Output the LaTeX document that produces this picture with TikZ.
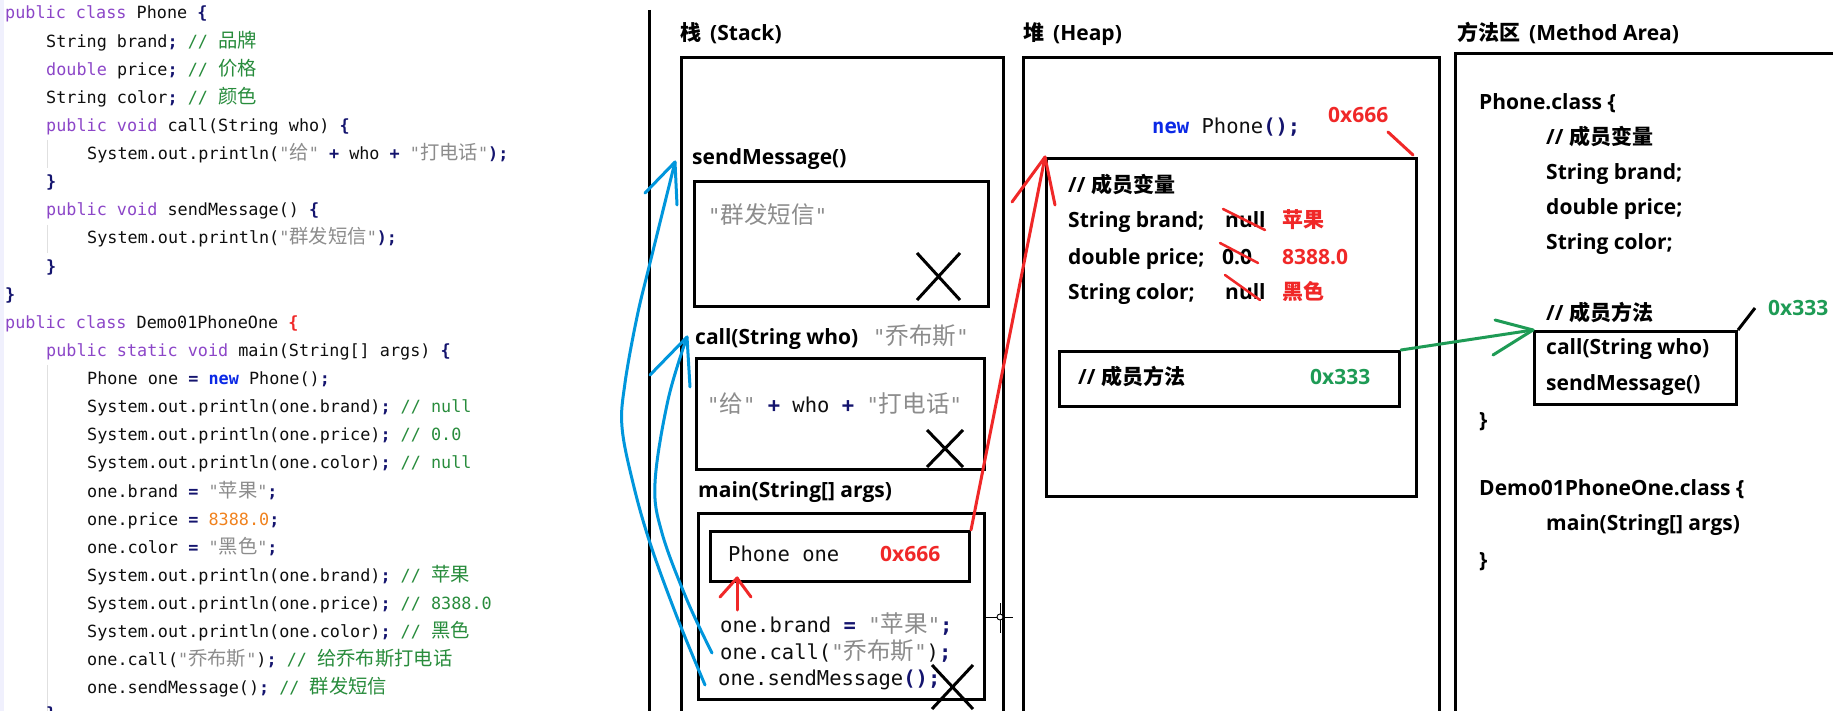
\documentclass[tikz,border=0pt]{standalone}
\usepackage{fontspec}
\newfontfamily\monof{DejaVu Sans Mono}
\newfontfamily\zhcode{Noto Sans CJK SC}[Scale=1.15]
\newfontfamily\dlat{Open Sans}
\newfontfamily\dzh{Noto Sans CJK SC}
\definecolor{kwc}{RGB}{140,70,200}
\definecolor{cmc}{RGB}{40,140,60}
\definecolor{sgc}{RGB}{140,140,140}
\definecolor{pnc}{RGB}{20,20,110}
\definecolor{nuc}{RGB}{240,130,30}
\definecolor{nwc}{RGB}{10,40,230}
\definecolor{codeblack}{RGB}{15,15,15}
\definecolor{redc}{RGB}{240,40,40}
\definecolor{grnc}{RGB}{30,155,85}
\definecolor{bluec}{RGB}{0,150,220}
\newcommand\Kw[1]{\textcolor{kwc}{#1}}
\newcommand\Cm[1]{\textcolor{cmc}{#1}}
\newcommand\Sg[1]{\textcolor{sgc}{#1}}
\newcommand\Pn[1]{\textcolor{pnc}{\bfseries #1}}
\newcommand\Nu[1]{\textcolor{nuc}{#1}}
\newcommand\Nw[1]{\textcolor{nwc}{\bfseries #1}}
\newcommand\Zc[1]{{\zhcode #1}}
\newcommand\Zd[1]{{\dzh\bfseries #1}}
\begin{document}
\begin{tikzpicture}[x=1pt,y=-1pt,
  code/.style={anchor=base west, inner sep=0, text=codeblack, font=\monof\fontsize{16.8}{20}\selectfont},
  scode/.style={anchor=base west, inner sep=0, text=codeblack, font=\monof\fontsize{20.5}{24}\selectfont},
  dia/.style={anchor=base west, inner sep=0, text=black, font=\dlat\bfseries\fontsize{21}{25}\selectfont},
  box/.style={draw, line width=3pt, inner sep=0, anchor=north west},
  xmark/.style={line width=3pt},
  bluearrow/.style={draw=bluec, line width=3pt, line cap=round, line join=round},
  redarrow/.style={draw=redc, line width=3pt, line cap=round, line join=round},
  grnarrow/.style={draw=grnc, line width=3pt, line cap=round, line join=round},
  guide/.style={draw=black!12, line width=0.8pt}
]
\useasboundingbox (0,0) rectangle (1833,711);
\fill[white] (0,0) rectangle (1833,711);
\fill[black!10!blue!6] (0,0) rectangle (4,711);
% indentation guides
\draw[guide] (47,140) -- (47,168);
\draw[guide] (47,225) -- (47,253);
\draw[guide] (47,365) -- (47,711);

% ---------- source code ----------
\node[code] (l1)  at (5,19.0)   {\Kw{public class} Phone \Pn{\{}};
\node[code] (l2)  at (46,47.1)  {String brand\Pn{;} \Cm{// \Zc{品牌}}};
\node[code] (l3)  at (46,75.2)  {\Kw{double} price\Pn{;} \Cm{// \Zc{价格}}};
\node[code] (l4)  at (46,103.4) {String color\Pn{;} \Cm{// \Zc{颜色}}};
\node[code] (l5)  at (46,131.5) {\Kw{public void} call(String who) \Pn{\{}};
\node[code] (l6)  at (87,159.6) {System.out.println(\Sg{"\Zc{给}"} \Pn{+} who \Pn{+} \Sg{"\Zc{打电话}"}\Pn{);}};
\node[code] (l7)  at (46,187.7) {\Pn{\}}};
\node[code] (l8)  at (46,215.8) {\Kw{public void} sendMessage() \Pn{\{}};
\node[code] (l9)  at (87,244.0) {System.out.println(\Sg{"\Zc{群发短信}"}\Pn{);}};
\node[code] (l10) at (46,272.1) {\Pn{\}}};
\node[code] (l11) at (5,300.2)  {\Pn{\}}};
\node[code] (l12) at (5,328.3)  {\Kw{public class} Demo01PhoneOne \textcolor{redc}{\bfseries\{}};
\node[code] (l13) at (46,356.4) {\Kw{public static void} main(String[] args) \Pn{\{}};
\node[code] (l14) at (87,384.6) {Phone one \Pn{=} \Nw{new} Phone()\Pn{;}};
\node[code] (l15) at (87,412.7) {System.out.println(one.brand)\Pn{;} \Cm{// null}};
\node[code] (l16) at (87,440.8) {System.out.println(one.price)\Pn{;} \Cm{// 0.0}};
\node[code] (l17) at (87,468.9) {System.out.println(one.color)\Pn{;} \Cm{// null}};
\node[code] (l18) at (87,497.0) {one.brand \Pn{=} \Sg{"\Zc{苹果}"}\Pn{;}};
\node[code] (l19) at (87,525.2) {one.price \Pn{=} \Nu{8388.0}\Pn{;}};
\node[code] (l20) at (87,553.3) {one.color \Pn{=} \Sg{"\Zc{黑色}"}\Pn{;}};
\node[code] (l21) at (87,581.4) {System.out.println(one.brand)\Pn{;} \Cm{// \Zc{苹果}}};
\node[code] (l22) at (87,609.5) {System.out.println(one.price)\Pn{;} \Cm{// 8388.0}};
\node[code] (l23) at (87,637.6) {System.out.println(one.color)\Pn{;} \Cm{// \Zc{黑色}}};
\node[code] (l24) at (87,665.8) {one.call(\Sg{"\Zc{乔布斯}"})\Pn{;} \Cm{// \Zc{给乔布斯打电话}}};
\node[code] (l25) at (87,693.9) {one.sendMessage()\Pn{;} \Cm{// \Zc{群发短信}}};
\node[code] (l26) at (46,719.0) {\Pn{\}}};

% divider
\draw[line width=3pt] (649,10) -- (649,720);

% ---------- headings ----------
\node[dia] (hstack) at (680,40.5)  {\Zd{栈}\hspace{9pt}(Stack)};
\node[dia] (hheap)  at (1023,40.5) {\Zd{堆}\hspace{9pt}(Heap)};
\node[dia] (hma)    at (1457,40.5) {\Zd{方法区}\hspace{9pt}(Method Area)};

% ---------- stack ----------
\node[box, minimum width=322pt, minimum height=760pt] (stackbox) at (680,56) {};
\node[dia] (smlab) at (692,164.5) {sendMessage()};
\node[box, minimum width=294pt, minimum height=125pt] (smbox) at (693,180) {};
\node[scode, text=sgc] (smtxt) at (708,224) {"\Zc{群发短信}"};
\draw[xmark] (917,253) -- (960,300) (917,300) -- (960,253);

\node[dia] (calllab) at (695,344.5) {call(String who)};
\node[scode, text=sgc] (callarg) at (873,344) {"\Zc{乔布斯}"};
\node[box, minimum width=288pt, minimum height=111pt] (callbox) at (695,357) {};
\node[scode] (calltxt) at (707,412) {\Sg{"\Zc{给}"} \Pn{+} who \Pn{+} \Sg{"\Zc{打电话}"}};
\draw[xmark] (927,430) -- (963,467) (927,467) -- (963,430);

\node[dia] (mainlab) at (698,497.5) {main(String[] args)};
\node[box, minimum width=286pt, minimum height=186pt] (mainbox) at (697,512) {};
\node[box, minimum width=259pt, minimum height=50pt] (phonebox) at (709,530) {};
\node[scode] (phonetxt) at (728,561) {Phone one};
\node[dia, text=redc] (addr1) at (880,561.5) {0x666};
\node[scode] (m1) at (720,632) {one.brand \Pn{=} \Sg{"\Zc{苹果}"}\Pn{;}};
\node[scode] (m2) at (720,659) {one.call(\Sg{"\Zc{乔布斯}"})\Pn{;}};
\node[scode] (m3) at (718,685) {one.sendMessage\Pn{();}};
\draw[xmark] (932,665) -- (973,709) (973,665) -- (932,709);

% small red arrow
\coordinate (ra1) at (737,610);
\coordinate (ra2) at (737,578);
\draw[redarrow] (ra1) -- (ra2);
\draw[redarrow] (720,597) -- (ra2) -- (751,597);

% cursor
\draw[line width=0.9pt] (985,617) -- (1013,617) (1000,603) -- (1000,633);
\draw[line width=0.9pt, fill=white] (1000,617) circle (3pt);

% ---------- heap ----------
\node[box, minimum width=416pt, minimum height=760pt] (heapbox) at (1022,56) {};
\node[scode] (newph) at (1152,134) {\Nw{new} Phone\Pn{();}};
\node[dia, text=redc] (addr2) at (1328,122.5) {0x666};
\draw[redarrow] (1388,132) -- (1413,155);
\node[box, minimum width=370pt, minimum height=338pt] (objbox) at (1045,157) {};
\node[dia] (hv0) at (1068,192.5) {// \Zd{成员变量}};
\node[dia] (hv1) at (1068,227.5) {String brand;};
\node[dia] (hv2) at (1068,264.5) {double price;};
\node[dia] (hv3) at (1068,299.5) {String color;};
\node[dia] (hn1) at (1225,227.5) {null};
\node[dia] (hn2) at (1222,264.5) {0.0};
\node[dia] (hn3) at (1225,299.5) {null};
\node[dia, text=redc] (hr1) at (1282,227.5) {\Zd{苹果}};
\node[dia, text=redc] (hr2) at (1282,264.5) {8388.0};
\node[dia, text=redc] (hr3) at (1282,299.5) {\Zd{黑色}};
\draw[redarrow, line width=2.5pt] (1223,209) -- (1265,230);
\draw[redarrow, line width=2.5pt] (1220,243) -- (1258,263);
\draw[redarrow, line width=2.5pt] (1225,275) -- (1260,300);
\node[box, minimum width=340pt, minimum height=55pt] (hmeth) at (1058,350) {};
\node[dia] (hm0) at (1078,384.5) {// \Zd{成员方法}};
\node[dia, text=grnc] (addr3) at (1310,384.5) {0x333};

% ---------- method area ----------
\draw[line width=3pt] (1455,760) |- (1850,54);
\coordinate (mabox) at (1455,54);
\node[dia] (ma1) at (1479,109.5) {Phone.class \{};
\node[dia] (ma2) at (1546,144.5) {// \Zd{成员变量}};
\node[dia] (ma3) at (1546,179.5) {String brand;};
\node[dia] (ma4) at (1546,214.5) {double price;};
\node[dia] (ma5) at (1546,249.5) {String color;};
\node[dia] (ma6) at (1546,320.5) {// \Zd{成员方法}};
\node[box, minimum width=202pt, minimum height=73pt] (mmeth) at (1533,330) {};
\node[dia] (ma7) at (1546,354.5) {call(String who)};
\node[dia] (ma8) at (1546,390.5) {sendMessage()};
\node[dia] (ma9) at (1479,427.5) {\}};
\node[dia] (ma10) at (1479,495.5) {Demo01PhoneOne.class \{};
\node[dia] (ma11) at (1546,530.5) {main(String[] args)};
\node[dia] (ma12) at (1479,567.5) {\}};
\coordinate (tagend) at (1755,308);
\draw[line width=3pt] (mmeth.north east) -- (tagend);
\node[dia, text=grnc] (addr4) at (1768,315.5) {0x333};

% ---------- arrows ----------
% blue: one.sendMessage() -> sendMessage()
\coordinate (b1s) at (705,685);
\coordinate (b1t) at (675,162);
\draw[bluearrow] plot[smooth, tension=0.6] coordinates {(b1s) (677,617) (650,543) (633,483) (622,427) (625,383) (637,317) (650,263) (675,162)};
\draw[bluearrow] (645,193) -- (b1t) -- (677,205);
% blue: one.call() -> call(String who)
\coordinate (b2s) at (712,653);
\coordinate (b2t) at (687,337);
\draw[bluearrow] plot[smooth, tension=0.6] coordinates {(b2s) (687,600) (662,533) (655,483) (668,400) (687,337)};
\draw[bluearrow] (650,375) -- (b2t) -- (690,387);
% red: Phone one -> object in heap
\coordinate (r1s) at (phonebox.north east);
\coordinate (r1t) at (objbox.north west);
\draw[redarrow] (r1s) -- (r1t);
\draw[redarrow] (1012,202) -- (r1t) -- (1055,205);
% green: heap methods -> method area
\coordinate (g1s) at (hmeth.north east);
\coordinate (g1t) at (mmeth.north west);
\draw[grnarrow] (g1s) -- (g1t);
\draw[grnarrow] (1495,320) -- (g1t) -- (1493,355);
\end{tikzpicture}
\end{document}
